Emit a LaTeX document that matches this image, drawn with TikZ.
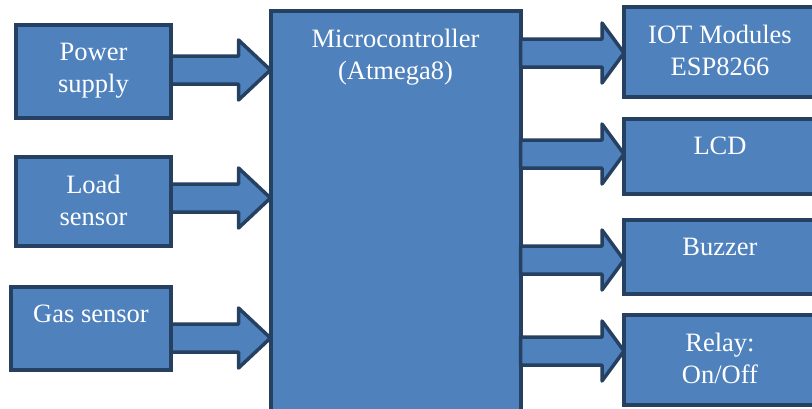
\documentclass[tikz,border=0pt]{standalone}
\usepackage{fontspec}
\setmainfont{Liberation Serif}
\usetikzlibrary{calc}
\definecolor{boxblue}{RGB}{79,129,189}
\definecolor{edgeblue}{RGB}{37,64,97}
\tikzset{
  blk/.style={draw=edgeblue, fill=boxblue, line width=4pt, inner sep=0pt, outer sep=0pt},
  blktext/.style={anchor=north, inner sep=0pt, align=center, text=white, font=\fontsize{26.5}{32}\selectfont},
  blkarrow/.style={draw=edgeblue, fill=boxblue, line width=3.5pt, line join=round}
}
\begin{document}
\begin{tikzpicture}[x=1pt,y=-1pt]
            \clip (0,0) rectangle (812,408);
            % inputs
            \node[blk, minimum width=155, minimum height=93] (ps) at (93.5,71.5) {};
            \node[blk, minimum width=155, minimum height=89] (ls) at (93.5,201.5) {};
            \node[blk, minimum width=160, minimum height=83] (gs) at (91,328.5) {};
            % controller
            \node[blk, minimum width=250, minimum height=420] (mc) at (395.5,220.5) {};
            % outputs
            \node[blk, minimum width=192, minimum height=90] (iot) at (720,52) {};
            \node[blk, minimum width=192, minimum height=75] (lcd) at (720,156.5) {};
            \node[blk, minimum width=192, minimum height=74] (bz) at (720,257) {};
            \node[blk, minimum width=192, minimum height=90] (rl) at (720,360) {};
            % block arrows
            \foreach \src/\dst/\y/\h in {ps/mc/70/32, ls/mc/198/32, gs/mc/338/32,
                mc/iot/53/22, mc/lcd/154/22, mc/bz/260/22, mc/rl/351/22}
            {
              \path (\src.east |- 0,\y) coordinate (a) (\dst.west |- 0,\y) coordinate (b);
              \draw[blkarrow] ($(a)+(0,-14)$) -- ($(b)+(-\h,-14)$) -- ($(b)+(-\h,-30)$) -- (b)
                -- ($(b)+(-\h,30)$) -- ($(b)+(-\h,14)$) -- ($(a)+(0,14)$) -- cycle;
            }
            % labels
            \node[blktext] (pstext) at ($(ps.north)+(0,18)$) {Power\\supply};
            \node[blktext] (lstext) at ($(ls.north)+(0,18)$) {Load\\sensor};
            \node[blktext] (gstext) at ($(gs.north)+(0,18)$) {Gas sensor};
            \node[blktext] (mctext) at ($(mc.north)+(0,18)$) {Microcontroller\\(Atmega8)};
            \node[blktext] (iottext) at ($(iot.north)+(0,18)$) {IOT Modules\\ESP8266};
            \node[blktext] (lcdtext) at ($(lcd.north)+(0,18)$) {LCD};
            \node[blktext] (bztext) at ($(bz.north)+(0,18)$) {Buzzer};
            \node[blktext] (rltext) at ($(rl.north)+(0,18)$) {Relay:\\On/Off};
        \end{tikzpicture}
\end{document}
